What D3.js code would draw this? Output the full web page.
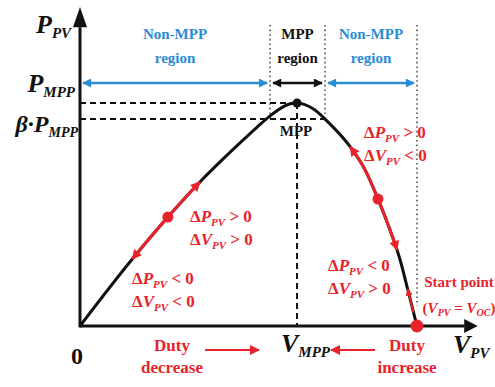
<!DOCTYPE html>
<html>
<head>
<meta charset="utf-8">
<script src="https://cdn.jsdelivr.net/npm/d3@7"></script>
<style>
  body { margin: 0; background: #fff; }
  svg { display: block; }
  svg text { font-family: "Liberation Serif", "Times New Roman", Tinos, "DejaVu Serif", serif; font-weight: bold; }
</style>
</head>
<body>
<svg id="chart" width="495" height="387"></svg>
<script>
// P-V characteristic of a PV panel (normalised: V_OC = 100, P_MPP = 100)
const voltage = [0, 14.8, 26.1, 35.6, 48.4, 52.4, 56.4, 60.4, 62.4, 64.4, 66.5, 68.55, 70.6, 72.7, 80.1, 84.6, 88.4, 92.0, 95.0, 97.3, 100];
const power   = [0, 28.7, 48.9, 64.6, 83.4, 89.0, 94.25, 98.4, 99.7, 100, 99.4, 97.98, 95.8, 92.8, 80.5, 70.0, 57.0, 43.0, 29.6, 16.1, 0];

const vMpp = 64.4;
const pMpp = 100;
const betaPMpp = 92.8;
const vOc = 100;

// region borders along the voltage axis
const regionBounds = [0, 56.4, 72.7, 100];
const regionTitles = [["Non-MPP", "region"], ["MPP", "region"], ["Non-MPP", "region"]];
const regionKinds = ["non", "mpp", "non"];

// perturb-and-observe trajectories drawn on the curve
const tracks = [
  { from: 15.5, to: 35.6, dot: 26.1 },
  { from: 80.1, to: 94.1, dot: 88.4 }
];

const RED = "#e8232b", BLUE = "#2a8cd3", INK = "#111";

const svg = d3.select("#chart");
svg.append("rect").attr("width", 495).attr("height", 387).attr("fill", "#fff");

const x = d3.scaleLinear().domain([0, 100]).range([80, 417]);
const y = d3.scaleLinear().domain([0, 100]).range([326, 103]);

// arrowhead markers
const defs = svg.append("defs");
function marker(id, color, w, h) {
  defs.append("marker")
    .attr("id", id).attr("viewBox", "0 0 10 10")
    .attr("refX", 9).attr("refY", 5)
    .attr("markerUnits", "userSpaceOnUse")
    .attr("markerWidth", w).attr("markerHeight", h)
    .attr("orient", "auto-start-reverse")
    .append("path").attr("d", "M0,0 L10,5 L0,10 Z").attr("fill", color);
}
marker("ah-red", RED, 12, 10);
marker("ah-red-small", RED, 8, 7);
marker("ah-blue", BLUE, 11, 9);
marker("ah-black", INK, 11, 9);

// rich text with italic symbols and subscripts
function rich(g, px, py, parts, o) {
  const t = g.append("text")
    .attr("x", px).attr("y", py)
    .attr("text-anchor", o.anchor || "start")
    .attr("fill", o.fill || INK)
    .style("font-size", o.size + "px");
  let shift = 0;
  parts.forEach(p => {
    const ts = t.append("tspan").text(p.t);
    if (p.i) ts.style("font-style", "italic");
    const target = p.sub ? o.subDy : 0;
    if (target !== shift) { ts.attr("dy", target - shift); shift = target; }
    if (p.sub) ts.style("font-size", o.subSize + "px");
  });
  return t;
}
function plain(g, px, py, s, size, fill) {
  return g.append("text").attr("x", px).attr("y", py)
    .attr("text-anchor", "middle").attr("fill", fill)
    .style("font-size", size + "px").text(s);
}

// ---- region guides and titles ----
const guides = svg.append("g");
regionBounds.slice(1).forEach((v, i) => {
  const bottom = i < 2 ? y(betaPMpp) : y(0) - 20;
  guides.append("line")
    .attr("x1", x(v)).attr("x2", x(v))
    .attr("y1", 25).attr("y2", bottom)
    .attr("stroke", "#555").attr("stroke-width", 1.6)
    .attr("stroke-dasharray", "1.6,3");
});

const arrowY = 83;
regionKinds.forEach((kind, i) => {
  const a = x(regionBounds[i]), b = x(regionBounds[i + 1]);
  const color = kind === "mpp" ? INK : BLUE;
  const id = kind === "mpp" ? "ah-black" : "ah-blue";
  guides.append("line")
    .attr("x1", a + 3).attr("x2", b - 3)
    .attr("y1", arrowY).attr("y2", arrowY)
    .attr("stroke", color).attr("stroke-width", 2.4)
    .attr("marker-start", `url(#${id})`).attr("marker-end", `url(#${id})`);
  const cx = (a + b) / 2;
  regionTitles[i].forEach((line, k) => plain(guides, cx, 39 + k * 24, line, 15, color));
});

// ---- reference dashed lines ----
const dash = svg.append("g").attr("stroke", INK).attr("stroke-width", 2).attr("stroke-dasharray", "6,4");
dash.append("line").attr("x1", x(0)).attr("x2", x(vMpp)).attr("y1", y(pMpp)).attr("y2", y(pMpp));
dash.append("line").attr("x1", x(0)).attr("x2", x(regionBounds[2])).attr("y1", y(betaPMpp)).attr("y2", y(betaPMpp));
dash.append("line").attr("x1", x(vMpp)).attr("x2", x(vMpp)).attr("y1", y(pMpp)).attr("y2", y(0));

// ---- axes ----
const axes = svg.append("g");
axes.append("line").attr("x1", x(0)).attr("x2", x(114)).attr("y1", y(0)).attr("y2", y(0))
  .attr("stroke", INK).attr("stroke-width", 3);
axes.append("path")
  .attr("d", `M${x(114)},${y(0) - 7} L${x(118)},${y(0)} L${x(114)},${y(0) + 7} Z`).attr("fill", INK);
axes.append("line").attr("x1", x(0)).attr("x2", x(0)).attr("y1", y(0) + 1.5).attr("y2", y(134))
  .attr("stroke", INK).attr("stroke-width", 3);
axes.append("path")
  .attr("d", `M${x(0) - 7},${y(134)} L${x(0)},${y(143)} L${x(0) + 7},${y(134)} Z`).attr("fill", INK);

// ---- P-V curve ----
const pts = voltage.map((v, i) => [v, power[i]]);
const line = d3.line().x(d => x(d[0])).y(d => y(d[1])).curve(d3.curveMonotoneX);
const curve = svg.append("path").datum(pts)
  .attr("d", line).attr("fill", "none")
  .attr("stroke", INK).attr("stroke-width", 3);

const node = curve.node();
const total = node.getTotalLength();
const samples = d3.range(0, total, 0.5).map(s => node.getPointAtLength(s));
function along(v0, v1) {
  return samples.filter(p => p.x >= x(v0) && p.x <= x(v1)).map(p => [p.x, p.y]);
}
function at(v) {
  return samples.reduce((best, p) => Math.abs(p.x - x(v)) < Math.abs(best.x - x(v)) ? p : best);
}

const redG = svg.append("g");
tracks.forEach(t => {
  redG.append("path").datum(along(t.from, t.to))
    .attr("d", d3.line()).attr("fill", "none")
    .attr("stroke", RED).attr("stroke-width", 3)
    .attr("marker-start", "url(#ah-red)").attr("marker-end", "url(#ah-red)");
  const p = at(t.dot);
  redG.append("circle").attr("cx", p.x).attr("cy", p.y).attr("r", 5.5).attr("fill", RED);
});
// leaving the open-circuit start point
const lift = along(97.2, 99.0).reverse();
redG.append("path").datum(lift).attr("d", d3.line()).attr("fill", "none")
  .attr("stroke", RED).attr("stroke-width", 2).attr("marker-end", "url(#ah-red-small)");
redG.append("circle").attr("cx", x(vOc)).attr("cy", y(0)).attr("r", 6.5).attr("fill", RED);

// MPP marker
svg.append("circle").attr("cx", x(vMpp)).attr("cy", y(pMpp)).attr("r", 4.5).attr("fill", INK);
plain(svg, x(vMpp) - 1, y(pMpp) + 33, "MPP", 15, INK);

// ---- axis labels ----
const lab = svg.append("g");
rich(lab, 36, 33, [{ t: "P", i: true }, { t: "PV", i: true, sub: true }], { size: 26, subSize: 15, subDy: 5 });
rich(lab, 75, 92, [{ t: "P", i: true }, { t: "MPP", i: true, sub: true }], { size: 26, subSize: 15, subDy: 5, anchor: "end" });
rich(lab, 78, 132, [{ t: "β·P", i: true }, { t: "MPP", i: true, sub: true }], { size: 24, subSize: 14, subDy: 5, anchor: "end" });
rich(lab, x(0) - 3, 364, [{ t: "0" }], { size: 24, anchor: "middle" });
rich(lab, x(vMpp) - 16, 352, [{ t: "V", i: true }, { t: "MPP", i: true, sub: true }], { size: 26, subSize: 15, subDy: 5 });
rich(lab, 453, 353, [{ t: "V", i: true }, { t: "PV", i: true, sub: true }], { size: 26, subSize: 15, subDy: 5 });

// ---- condition labels ----
function delta(px, py, sP, sV) {
  rich(lab, px, py, [{ t: "Δ" }, { t: "P", i: true }, { t: "PV", i: true, sub: true }, { t: " " + sP + " 0" }],
    { size: 17, subSize: 11, subDy: 4, fill: RED });
  rich(lab, px, py + 23, [{ t: "Δ" }, { t: "V", i: true }, { t: "PV", i: true, sub: true }, { t: " " + sV + " 0" }],
    { size: 17, subSize: 11, subDy: 4, fill: RED });
}
delta(190, 222, ">", ">");
delta(132, 284, "<", "<");
delta(364, 138, ">", "<");
delta(328, 271, "<", ">");

// start point
plain(lab, 459, 287, "Start point", 15, RED);
rich(lab, 459, 313, [{ t: "(" }, { t: "V", i: true }, { t: "PV", i: true, sub: true }, { t: " = " }, { t: "V", i: true }, { t: "OC", i: true, sub: true }, { t: ")" }],
  { size: 15, subSize: 10, subDy: 3, fill: RED, anchor: "middle" });

// duty-cycle direction
[["Duty", "decrease", 172], ["Duty", "increase", 407]].forEach(([a, b, cx]) => {
  [a, b].forEach((s, k) => plain(lab, cx, 351 + k * 22, s, 17, RED));
});
const duty = svg.append("g").attr("stroke", RED).attr("stroke-width", 2.2);
duty.append("line").attr("x1", 205).attr("x2", x(vMpp) - 38).attr("y1", 350).attr("y2", 350)
  .attr("marker-end", "url(#ah-red)");
duty.append("line").attr("x1", 375).attr("x2", x(vMpp) + 34).attr("y1", 350).attr("y2", 350)
  .attr("marker-end", "url(#ah-red)");
</script>
</body>
</html>
